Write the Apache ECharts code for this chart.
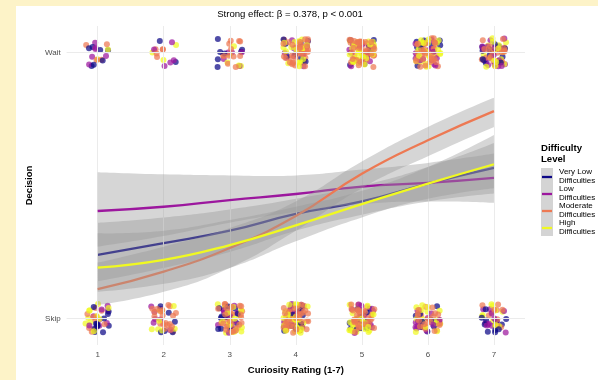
<!DOCTYPE html>
<html>
<head>
<meta charset="utf-8">
<script src="https://cdn.jsdelivr.net/npm/echarts@6/dist/echarts.min.js"></script>
<style>
  html, body { margin: 0; padding: 0; background: #fdf3c8; width: 598px; height: 380px; overflow: hidden; }
  #chart { position: absolute; left: 16px; top: 6px; width: 582px; height: 374px; background: #ffffff; }
</style>
</head>
<body>
<div id="chart"></div>
<script>
// Curiosity rating levels on the x axis
const curiosity = [1, 2, 3, 4, 5, 6, 7];
const levels = ['Very Low', 'Low', 'Moderate', 'High'];
const levelColors = ['#0D0887', '#9C179E', '#ED7953', '#F0F921'];

// Observed responses per rating: how many chose Wait / Skip, by difficulty level
const waitVeryLow  = [7, 2, 7, 9, 10, 10, 14];
const waitLow      = [6, 5, 5, 9, 12, 14, 17];
const waitModerate = [4, 5, 12, 34, 44, 34, 22];
const waitHigh     = [2, 3, 5, 20, 30, 24, 18];
const skipVeryLow  = [12, 6, 14, 14, 12, 10, 12];
const skipLow      = [8, 7, 12, 12, 12, 12, 12];
const skipModerate = [10, 20, 30, 40, 35, 24, 10];
const skipHigh     = [10, 8, 20, 30, 26, 14, 10];

// Logistic fit: predicted probability of waiting and 95% band
const fitVeryLow   = [0.239, 0.283, 0.330, 0.393, 0.440, 0.507, 0.566];
const loVeryLow    = [0.140, 0.190, 0.250, 0.330, 0.390, 0.440, 0.470];
const hiVeryLow    = [0.360, 0.380, 0.410, 0.450, 0.500, 0.570, 0.660];
const fitLow       = [0.404, 0.420, 0.445, 0.468, 0.496, 0.510, 0.529];
const loLow        = [0.270, 0.310, 0.360, 0.400, 0.430, 0.440, 0.435];
const hiLow        = [0.550, 0.542, 0.538, 0.538, 0.560, 0.585, 0.620];
const fitModerate  = [0.110, 0.176, 0.265, 0.385, 0.544, 0.670, 0.780];
const loModerate   = [0.050, 0.100, 0.190, 0.330, 0.490, 0.610, 0.720];
const hiModerate   = [0.210, 0.270, 0.340, 0.440, 0.590, 0.720, 0.830];
const fitHigh      = [0.191, 0.220, 0.276, 0.350, 0.430, 0.507, 0.580];
const loHigh       = [0.100, 0.130, 0.190, 0.290, 0.380, 0.450, 0.490];
const hiHigh       = [0.320, 0.330, 0.370, 0.420, 0.480, 0.570, 0.690];

// Decision axis labels
const decisionTicks = [0, 1];
const decisionLabels = ['Skip', 'Wait'];

const waitCounts = [waitVeryLow, waitLow, waitModerate, waitHigh];
const skipCounts = [skipVeryLow, skipLow, skipModerate, skipHigh];
const fits = [fitVeryLow, fitLow, fitModerate, fitHigh];
const lows = [loVeryLow, loLow, loModerate, loHigh];
const highs = [hiVeryLow, hiLow, hiModerate, hiHigh];

// Pixel jitter (like geom_jitter), deterministic hash so the layout is stable
function hash01(n) {
  const s = Math.sin(n * 127.1 + 311.7) * 43758.5453;
  return s - Math.floor(s);
}
function jitter(k, seed) {
  const base = seed * 1000 + k * 2;
  return [(hash01(base) - 0.5) * 25, (hash01(base + 1) - 0.5) * 29];
}

const points = [];
curiosity.forEach((x, i) => {
  [[1, waitCounts], [0, skipCounts]].forEach(([decision, counts], d) => {
    const remaining = counts.map(c => c[i]);
    let k = 0;
    const seed = i * 2 + d + 1;
    while (remaining.some(r => r > 0)) {
      for (let g = 0; g < 4; g++) {
        if (remaining[g] > 0) {
          remaining[g]--;
          points.push({
            value: [x, decision],
            symbolOffset: jitter(k++, seed),
            itemStyle: { color: levelColors[g] }
          });
        }
      }
    }
  });
});

// Bezier path through pixel points, same control-point rule as ECharts' smooth lines
function smoothSegments(pts, smooth) {
  const n = pts.length;
  const cpIn = [], cpOut = [];
  for (let i = 0; i < n; i++) {
    const p = pts[i];
    if (i === 0 || i === n - 1) { cpIn.push(p); cpOut.push(p); continue; }
    const prev = pts[i - 1], next = pts[i + 1];
    const vx = (next[0] - prev[0]) * smooth, vy = (next[1] - prev[1]) * smooth;
    const lp = Math.hypot(p[0] - prev[0], p[1] - prev[1]);
    const ln = Math.hypot(p[0] - next[0], p[1] - next[1]);
    const rn = ln / (ln + lp), rp = lp / (ln + lp);
    cpIn.push([p[0] - vx * rp, p[1] - vy * rp]);
    cpOut.push([p[0] + vx * rn, p[1] + vy * rn]);
  }
  let d = '';
  for (let i = 0; i < n - 1; i++) {
    const a = cpOut[i], b = cpIn[i + 1], c = pts[i + 1];
    d += ` C${a[0]},${a[1]} ${b[0]},${b[1]} ${c[0]},${c[1]}`;
  }
  return d;
}

const series = [];

// Panel grid lines
series.push({
  type: 'line', data: [], z: 1, silent: true,
  markLine: {
    silent: true, symbol: 'none', animation: false,
    label: { show: false },
    lineStyle: { color: '#ebebeb', width: 1, type: 'solid' },
    data: curiosity.map(x => ({ xAxis: x })).concat(decisionTicks.map(y => ({ yAxis: y })))
  }
});

// Individual responses
series.push({
  type: 'scatter', data: points, z: 2, symbolSize: 6,
  itemStyle: { opacity: 0.72 }, silent: true
});

// Each level: its band, then its fitted curve (later bands sit over earlier curves)
for (let g = 0; g < 4; g++) {
  series.push({
    type: 'custom', z: 3 + g * 2, silent: true,
    data: curiosity.map((x, i) => [x, lows[g][i], highs[g][i]]),
    renderItem: function (params, api) {
      if (params.dataIndex !== 0) return null;
      const upper = curiosity.map((x, i) => api.coord([x, highs[g][i]]));
      const lower = curiosity.map((x, i) => api.coord([x, lows[g][i]])).reverse();
      const d = `M${upper[0][0]},${upper[0][1]}` + smoothSegments(upper, 0.5) +
        ` L${lower[0][0]},${lower[0][1]}` + smoothSegments(lower, 0.5) + ' Z';
      return { type: 'path', shape: { pathData: d }, style: { fill: '#999999', opacity: 0.4 } };
    }
  });
  series.push({
    type: 'line', name: levels[g], smooth: true, symbol: 'none', z: 4 + g * 2, silent: true,
    lineStyle: { color: levelColors[g], width: 2.3 },
    data: curiosity.map((x, i) => [x, fits[g][i]])
  });
}

// Legend drawn as graphic elements
const legendEls = [
  { type: 'text', x: 525, y: 142, style: { text: 'Difficulty', font: 'bold 9.6px "Liberation Sans", Arial, sans-serif', fill: '#000', verticalAlign: 'middle' } },
  { type: 'text', x: 525, y: 153, style: { text: 'Level', font: 'bold 9.6px "Liberation Sans", Arial, sans-serif', fill: '#000', verticalAlign: 'middle' } },
  { type: 'rect', shape: { x: 525, y: 162, width: 12, height: 68 }, style: { fill: '#d4d4d4' } }
];
for (let g = 0; g < 4; g++) {
  const cy = 171 + g * 17;
  legendEls.push({ type: 'line', shape: { x1: 526, y1: cy, x2: 536, y2: cy }, style: { stroke: levelColors[g], lineWidth: 2.3 } });
  legendEls.push({ type: 'text', x: 543, y: cy - 5, style: { text: levels[g], font: '8px "Liberation Sans", Arial, sans-serif', fill: '#000', verticalAlign: 'middle' } });
  legendEls.push({ type: 'text', x: 543, y: cy + 4, style: { text: 'Difficulties', font: '8px "Liberation Sans", Arial, sans-serif', fill: '#000', verticalAlign: 'middle' } });
}

const chart = echarts.init(document.getElementById('chart'), null, { renderer: 'canvas' });
chart.setOption({
  animation: false,
  backgroundColor: '#ffffff',
  grid: { left: 39, right: 73, top: 20, bottom: 28, containLabel: false },
  xAxis: {
    type: 'value', min: 0.53, max: 7.47,
    name: 'Curiosity Rating (1-7)', nameLocation: 'middle', nameGap: 20,
    nameTextStyle: { fontFamily: 'Liberation Sans', fontWeight: 'bold', fontSize: 9.5, color: '#000' },
    axisLine: { show: false }, axisTick: { show: false }, splitLine: { show: false },
    axisLabel: { customValues: curiosity, margin: 6, fontFamily: 'Liberation Sans', fontSize: 8, color: '#4d4d4d' }
  },
  yAxis: {
    type: 'value', min: -0.1, max: 1.1,
    name: 'Decision', nameLocation: 'middle', nameGap: 30,
    nameTextStyle: { fontFamily: 'Liberation Sans', fontWeight: 'bold', fontSize: 9.5, color: '#000' },
    axisLine: { show: false }, axisTick: { show: false }, splitLine: { show: false },
    axisLabel: {
      customValues: decisionTicks, margin: 6, fontFamily: 'Liberation Sans', fontSize: 8, color: '#4d4d4d',
      formatter: v => decisionLabels[decisionTicks.indexOf(Math.round(v))]
    }
  },
  graphic: [
    { type: 'text', x: 274, y: 8, style: { text: 'Strong effect: β = 0.378, p < 0.001', font: '9.6px "Liberation Sans", Arial, sans-serif', fill: '#000', align: 'center', verticalAlign: 'middle' } }
  ].concat(legendEls),
  series: series
});
</script>
</body>
</html>
